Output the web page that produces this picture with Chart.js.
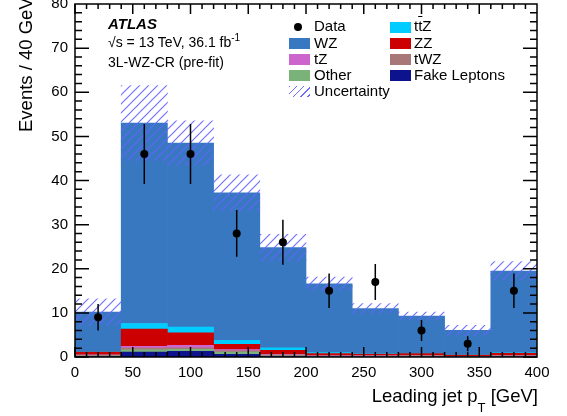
<!DOCTYPE html>
<html><head><meta charset="utf-8">
<script src="https://cdn.jsdelivr.net/npm/chart.js@4/dist/chart.umd.min.js"></script>
<style>
body{margin:0;background:#fff;}
#wrap{position:relative;width:567px;height:416px;overflow:hidden;font-family:"Liberation Sans",Arial,sans-serif;color:#000;}
#c{position:absolute;left:0;top:0;}
.t{position:absolute;white-space:nowrap;line-height:1.15;}
.sw{position:absolute;width:21px;height:11px;}
</style></head><body>
<div id="wrap">
<canvas id="c" width="567" height="416"></canvas>
<div class="t" style="left:108px;top:14.5px;font-size:15px;font-weight:bold;font-style:italic;">ATLAS</div>
<div class="t" style="left:108px;top:33.6px;font-size:14px;">√s = 13 TeV, 36.1 fb<span style="font-size:10px;position:relative;top:-6px;line-height:0;">-1</span></div>
<div class="t" style="left:108px;top:53.6px;font-size:14px;">3L-WZ-CR (pre-fit)</div>

<div style="position:absolute;left:294px;top:22.5px;width:8px;height:8px;border-radius:50%;background:#000;"></div>
<div class="t" style="left:314px;top:17.2px;font-size:15px;">Data</div>
<div class="sw" style="left:289px;top:37.9px;background:#3878c0;"></div>
<div class="t" style="left:314px;top:33.5px;font-size:15px;">WZ</div>
<div class="sw" style="left:289px;top:54.1px;background:#cc66cc;"></div>
<div class="t" style="left:314px;top:49.7px;font-size:15px;">tZ</div>
<div class="sw" style="left:289px;top:70.1px;background:#7ab37a;"></div>
<div class="t" style="left:314px;top:65.7px;font-size:15px;">Other</div>
<div class="sw" style="left:289px;top:86.1px;background:repeating-linear-gradient(135deg,#6c6cff 0 1.3px,transparent 1.3px 5px);"></div>
<div class="t" style="left:314px;top:81.7px;font-size:15px;">Uncertainty</div>

<div class="sw" style="left:390px;top:21.6px;background:#00ccff;"></div>
<div class="t" style="left:414px;top:17.2px;font-size:15px;">t<span style="text-decoration:overline;">t</span>Z</div>
<div class="sw" style="left:390px;top:37.9px;background:#cc0000;"></div>
<div class="t" style="left:414px;top:33.5px;font-size:15px;">ZZ</div>
<div class="sw" style="left:390px;top:54.1px;background:#a87878;"></div>
<div class="t" style="left:414px;top:49.7px;font-size:15px;">tWZ</div>
<div class="sw" style="left:390px;top:70.1px;background:#0c138c;"></div>
<div class="t" style="left:414px;top:65.7px;font-size:15px;">Fake Leptons</div>

<div class="t" style="right:29px;top:384.5px;font-size:18.5px;">Leading jet p<span style="font-size:13px;position:relative;top:10px;line-height:0;">T</span> [GeV]</div>
<div class="t" style="left:14.5px;top:132px;font-size:18.5px;transform-origin:0 0;transform:rotate(-90deg);">Events / 40 GeV</div>
</div>
<script>
// ---- data ----
const binCenters = [20, 60, 100, 140, 180, 220, 260, 300, 340, 380];
const fakeLeptons = [0.1, 1.1, 1.3, 0.6, 0.1, 0.05, 0.05, 0.05, 0.02, 0.05];
const other       = [0.1, 0.5, 0.45, 0.5, 0.1, 0.05, 0.05, 0.05, 0.02, 0.05];
const tWZ         = [0.25, 0.4, 0.35, 0.3, 0.3, 0.15, 0.15, 0.2, 0.1, 0.2];
const tZ          = [0.05, 0.4, 0.55, 0.3, 0.1, 0.05, 0.05, 0.05, 0.03, 0.05];
const ZZ          = [0.6, 3.9, 2.85, 1.15, 0.9, 0.5, 0.35, 0.4, 0.25, 0.5];
const ttZ         = [0.05, 1.3, 1.3, 0.9, 0.55, 0.2, 0.1, 0.1, 0.1, 0.1];
const WZ          = [9.05, 45.4, 41.7, 33.45, 22.75, 15.6, 10.25, 8.45, 5.53, 18.55];
const uncLow      = [7.2, 44.5, 43.5, 33.1, 21.8, 15.1, 9.9, 8.4, 4.9, 17.4];
const uncHigh     = [13.2, 61.5, 53.5, 41.3, 27.8, 18.1, 12.1, 10.2, 7.2, 21.6];
const dataValues  = [9, 46, 46, 28, 26, 15, 17, 6, 3, 15];
const dataErrLow  = [6, 39.2, 39.2, 22.7, 20.9, 11.1, 12.9, 3.6, 1.3, 11.1];
const dataErrHigh = [12, 52.8, 52.8, 33.3, 31.1, 18.9, 21.1, 8.4, 4.7, 18.9];
const xMajorTicks = [0, 50, 100, 150, 200, 250, 300, 350, 400];
const yMajorTicks = [0, 10, 20, 30, 40, 50, 60, 70, 80];

// ---- hatch pattern ----
function makeHatch() {
  const s = 9, c = document.createElement('canvas');
  c.width = s; c.height = s;
  const g = c.getContext('2d');
  g.strokeStyle = 'rgba(100,100,255,0.9)';
  g.lineWidth = 1.2;
  g.beginPath();
  g.moveTo(0, s); g.lineTo(s, 0);
  g.moveTo(-2, 2); g.lineTo(2, -2);
  g.moveTo(s - 2, s + 2); g.lineTo(s + 2, s - 2);
  g.stroke();
  return g.createPattern(c, 'repeat');
}

const pts = arr => binCenters.map((x, i) => ({x, y: arr[i]}));
const errLine = [];
binCenters.forEach((x, i) => {
  errLine.push({x, y: dataErrLow[i]}, {x, y: dataErrHigh[i]}, {x, y: null});
});

const stackDs = (label, arr, color) => ({
  type: 'bar', label, data: pts(arr), backgroundColor: color, borderWidth: 0,
  yAxisID: 'y', order: 3, barPercentage: 1, categoryPercentage: 1, stack: 'mc'
});

const frameTicks = {
  id: 'frameTicks',
  afterDraw(chart) {
    const {ctx, chartArea: a, scales: {x, y}} = chart;
    ctx.save();
    ctx.strokeStyle = '#000';
    ctx.lineWidth = 1.5;
    ctx.strokeRect(a.left, a.top, a.right - a.left, a.bottom - a.top);
    ctx.beginPath();
    for (let i = 0; i < xMajorTicks.length - 1; i++) {
      for (let k = 0; k < 5; k++) {
        const v = xMajorTicks[i] + k * (xMajorTicks[i + 1] - xMajorTicks[i]) / 5;
        const px = x.getPixelForValue(v);
        const L = k === 0 ? 10 : 5;
        ctx.moveTo(px, a.bottom); ctx.lineTo(px, a.bottom - L);
        ctx.moveTo(px, a.top); ctx.lineTo(px, a.top + L);
      }
    }
    for (let i = 0; i < yMajorTicks.length - 1; i++) {
      for (let k = 0; k < 5; k++) {
        const v = yMajorTicks[i] + k * (yMajorTicks[i + 1] - yMajorTicks[i]) / 5;
        const py = y.getPixelForValue(v);
        const L = k === 0 ? 14 : 7;
        ctx.moveTo(a.left, py); ctx.lineTo(a.left + L, py);
        ctx.moveTo(a.right, py); ctx.lineTo(a.right - L, py);
      }
    }
    ctx.stroke();
    ctx.restore();
  }
};

Chart.defaults.font.family = '"Liberation Sans", Arial, sans-serif';
Chart.defaults.color = '#000';

new Chart(document.getElementById('c'), {
  type: 'bar',
  data: {
    datasets: [
      {type: 'scatter', label: 'Data', data: pts(dataValues), yAxisID: 'yu', order: 0,
       pointRadius: 4, pointBackgroundColor: '#000', pointBorderWidth: 0, showLine: false},
      {type: 'line', label: 'err', data: errLine, yAxisID: 'yu', order: 1,
       borderColor: '#000', borderWidth: 1.5, pointRadius: 0, spanGaps: false, fill: false},
      {type: 'bar', label: 'Uncertainty', data: binCenters.map((x, i) => ({x, y: [uncLow[i], uncHigh[i]]})),
       yAxisID: 'yu', order: 2, grouped: false, backgroundColor: makeHatch(), borderWidth: 0,
       barPercentage: 1, categoryPercentage: 1},
      stackDs('Fake Leptons', fakeLeptons, '#0c138c'),
      stackDs('Other', other, '#7ab37a'),
      stackDs('tWZ', tWZ, '#a87878'),
      stackDs('tZ', tZ, '#cc66cc'),
      stackDs('ZZ', ZZ, '#cc0000'),
      stackDs('ttZ', ttZ, '#00ccff'),
      stackDs('WZ', WZ, '#3878c0')
    ]
  },
  options: {
    responsive: false,
    animation: false,
    devicePixelRatio: 1,
    layout: {padding: {left: 0, top: 2, right: 30, bottom: 0}},
    plugins: {legend: {display: false}, tooltip: {enabled: false}},
    scales: {
      x: {
        type: 'linear', min: 0, max: 400, offset: false,
        grid: {display: false, drawTicks: false}, border: {display: false},
        ticks: {stepSize: 50, autoSkip: false, maxRotation: 0, padding: 7, font: {size: 15}},
        afterFit: s => { s.height = 59; s.paddingLeft = 0; s.paddingRight = 0; }
      },
      y: {
        stacked: true, min: 0, max: 80,
        grid: {display: false, drawTicks: false}, border: {display: false},
        ticks: {stepSize: 10, padding: 7, font: {size: 15}},
        afterFit: s => { s.width = 75; s.paddingTop = 0; s.paddingBottom = 0; }
      },
      yu: {
        display: false, stacked: false, min: 0, max: 80
      }
    }
  },
  plugins: [frameTicks]
});
</script>
</body></html>
